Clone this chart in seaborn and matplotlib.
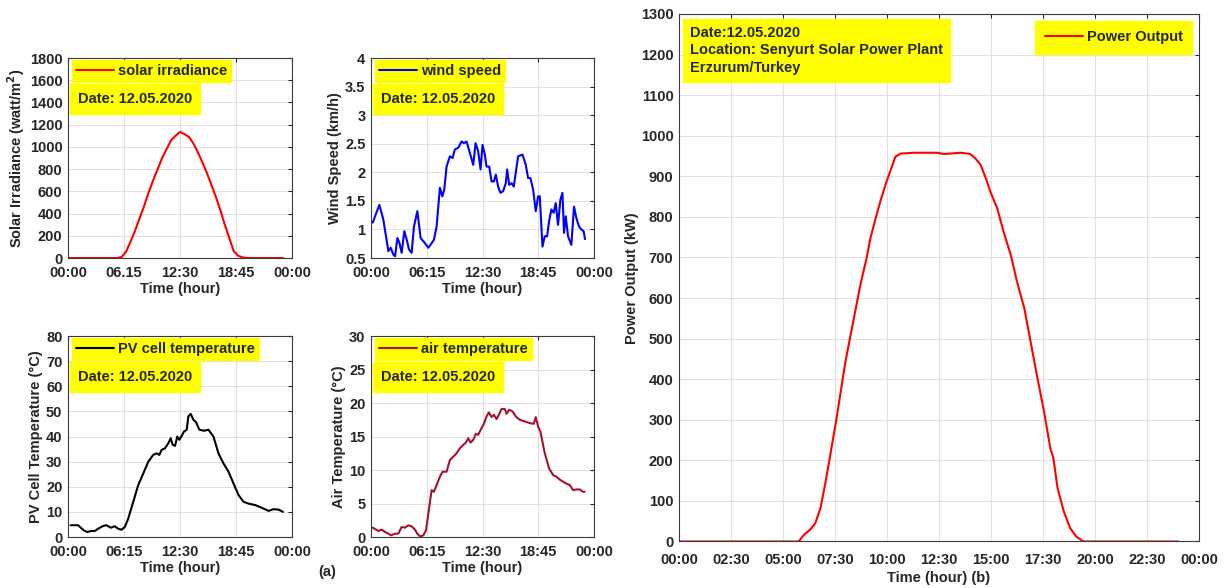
import numpy as np
import pandas as pd
import seaborn as sns
import matplotlib.pyplot as plt

# ---- data ----
irr_hours = np.arange(0, 24.01, 0.5)
irr_values = [0, 0, 0, 0, 0, 0, 0, 0, 0, 0, 0, 0,
              10, 60, 150, 250, 360, 470, 590, 700, 800, 900, 980, 1060,
              1100, 1135, 1115, 1090, 1030, 950, 860, 765, 660, 550, 430, 300,
              180, 60, 20, 5, 0, 0, 0, 0, 0, 0, 0, 0, 0]

wind_hours = [0.19, 0.93, 1.38, 1.94, 2.2, 2.5, 2.69, 2.95, 3.17, 3.43, 3.73, 4.0,
              4.25, 4.55, 4.81, 5.19, 5.56, 6.04, 6.42, 6.79, 7.05, 7.35, 7.72, 7.99,
              8.21, 8.47, 8.84, 9.14, 9.4, 9.78, 10.15, 10.41, 10.71, 11.08, 11.46, 11.72,
              12.01, 12.28, 12.5, 12.76, 12.95, 13.25, 13.51, 13.77, 13.99, 14.25, 14.51, 14.81,
              15.11, 15.26, 15.49, 15.75, 16.0, 16.49, 16.98, 17.35, 17.61, 17.87, 18.17, 18.47,
              18.73, 18.92, 19.22, 19.48, 19.74, 19.96, 20.22, 20.48, 20.71, 20.97, 21.23, 21.46,
              21.64, 21.83, 22.09, 22.46, 22.76, 23.02, 23.32, 23.58, 23.84, 23.99]
wind_values = [1.12, 1.43, 1.17, 0.62, 0.68, 0.56, 0.53, 0.85, 0.77, 0.59, 0.97, 0.82,
               0.65, 0.59, 1.05, 1.32, 0.85, 0.76, 0.68, 0.76, 0.82, 1.05, 1.73, 1.58,
               1.70, 2.10, 2.28, 2.25, 2.40, 2.43, 2.54, 2.51, 2.54, 2.34, 2.13, 2.51,
               2.37, 2.05, 2.48, 2.31, 2.10, 2.10, 1.84, 1.84, 1.96, 1.75, 1.64, 1.67,
               1.81, 2.05, 1.78, 1.81, 1.75, 2.28, 2.31, 2.13, 1.90, 1.90, 1.70, 1.32,
               1.58, 1.58, 0.70, 0.88, 0.88, 1.14, 1.35, 1.29, 1.46, 1.08, 1.52, 1.64,
               0.94, 1.23, 0.88, 0.73, 1.40, 1.20, 1.05, 1.00, 0.97, 0.83]

pv_hours = [0.3, 1.12, 1.75, 2.13, 2.61, 2.99, 3.36, 3.92, 4.29, 4.78, 5.22, 5.6,
            5.97, 6.34, 6.72, 7.28, 7.84, 8.4, 8.96, 9.51, 9.89, 10.19, 10.45, 10.82,
            11.19, 11.46, 11.68, 11.94, 12.2, 12.43, 12.69, 12.95, 13.25, 13.43, 13.69, 13.99,
            14.29, 14.66, 15.19, 15.67, 16.23, 16.79, 17.35, 17.91, 18.47, 19.03, 19.59, 20.15,
            20.9, 21.64, 22.39, 22.95, 23.5, 23.99]
pv_values = [4.7, 4.7, 2.7, 2.0, 2.4, 2.4, 3.3, 4.4, 4.7, 3.7, 4.3, 3.3,
             2.9, 4.0, 7.3, 14.0, 20.7, 25.3, 30.0, 32.7, 33.3, 32.7, 34.7, 35.3,
             37.3, 39.3, 36.7, 36.3, 40.0, 38.7, 40.3, 42.0, 42.7, 48.0, 49.0, 46.7,
             45.7, 42.7, 42.3, 42.7, 40.0, 33.3, 29.3, 26.0, 21.3, 16.7, 14.0, 13.3,
             12.7, 11.6, 10.4, 11.1, 10.9, 10.0]

air_hours = [0.19, 0.82, 1.19, 1.57, 1.94, 2.24, 2.69, 3.06, 3.43, 3.81, 4.18, 4.55,
             4.93, 5.19, 5.49, 5.86, 6.16, 6.53, 6.79, 7.05, 7.35, 7.72, 8.02, 8.47,
             8.84, 9.22, 9.59, 9.96, 10.34, 10.63, 10.9, 11.16, 11.46, 11.75, 12.01, 12.39,
             12.65, 12.95, 13.21, 13.51, 13.77, 14.07, 14.33, 14.63, 15.0, 15.19, 15.49, 15.86,
             16.23, 16.68, 17.24, 17.8, 18.25, 18.47, 18.73, 18.99, 19.48, 19.96, 20.41, 20.78,
             21.23, 21.72, 22.28, 22.65, 23.02, 23.4, 23.77, 23.95]
air_values = [1.4, 0.9, 1.1, 0.75, 0.5, 0.25, 0.5, 0.5, 1.5, 1.4, 1.75, 1.6,
              1.1, 0.5, 0.1, 0.25, 1.0, 4.5, 7.0, 6.75, 7.75, 9.0, 9.75, 9.75,
              11.5, 12.0, 12.5, 13.25, 13.75, 14.1, 14.75, 14.1, 14.5, 15.4, 15.25, 16.25,
              16.9, 18.0, 18.6, 17.9, 18.25, 17.6, 18.25, 19.1, 19.1, 18.4, 19.0, 18.75,
              18.0, 17.5, 17.25, 17.0, 16.9, 17.9, 16.5, 15.75, 12.5, 10.25, 9.25, 9.0,
              8.5, 8.1, 7.75, 7.0, 7.1, 7.1, 6.75, 6.75]

power_hours = [0, 1, 2, 3, 4, 5, 5.75, 6.0, 6.3, 6.55, 6.8,
               7.05, 7.3, 7.55, 7.8, 8.0, 8.25, 8.5, 8.75, 9.0, 9.2,
               9.45, 9.7, 9.95, 10.2, 10.4, 10.65, 11.3, 12.4, 12.75, 13.55,
               14.0, 14.25, 14.5, 14.75, 15.0, 15.3, 15.6, 15.95, 16.25, 16.6,
               16.9, 17.2, 17.55, 17.85, 18.0, 18.2, 18.5, 18.8, 19.1, 19.45,
               20, 21, 22, 23, 24]
power_values = [0, 0, 0, 0, 0, 0, 0, 16, 29, 45, 82,
                148, 222, 296, 378, 443, 509, 575, 640, 694, 747,
                796, 842, 883, 919, 948, 956, 958, 958, 955, 958,
                955, 944, 928, 895, 858, 821, 764, 706, 640, 575,
                493, 411, 320, 230, 205, 131, 74, 33, 12, 0,
                0, 0, 0, 0, 0]

small_ticks = [0, 6.25, 12.5, 18.75, 25]
small_labels = ["00:00", "06:15", "12:30", "18:45", "00:00"]
big_ticks = np.arange(0, 25.1, 2.5)
big_labels = ["00:00", "02:30", "05:00", "07:30", "10:00", "12:30",
              "15:00", "17:30", "20:00", "22:30", "00:00"]
date_text = "Date: 12.05.2020"

# ---- style ----
sns.set_style("whitegrid")
plt.rcParams['font.family'] = ['Liberation Sans', 'DejaVu Sans']
plt.rcParams['font.weight'] = 'bold'
plt.rcParams['axes.labelweight'] = 'bold'
plt.rcParams['grid.color'] = '#e0e0e0'
plt.rcParams['grid.linewidth'] = 0.7
plt.rcParams['xtick.color'] = '#262626'
plt.rcParams['ytick.color'] = '#262626'

YELLOW = '#ffff00'

fig = plt.figure(figsize=(12.25, 5.88), dpi=100)


def style_axes(ax, fs):
    ax.tick_params(direction='in', length=3, width=0.8, top=True, right=True,
                   labelsize=fs)
    ax.tick_params(axis='x', pad=6)
    ax.tick_params(axis='y', pad=4)
    for sp in ax.spines.values():
        sp.set_linewidth(0.8)
        sp.set_color('#3a3a3a')
    ax.grid(True)


def yellow_legend(ax, **kw):
    leg = ax.legend(fontsize=10.5, frameon=True, fancybox=False, facecolor=YELLOW,
                    edgecolor=YELLOW, framealpha=1, handlelength=2.6,
                    handletextpad=0.3, **kw)
    for t in leg.get_texts():
        t.set_fontweight('bold')
    return leg


def small_panel(rect, x, y, color, name, ylabel, ylim, yticks, ylabels, xlabels):
    ax = fig.add_axes(rect)
    df = pd.DataFrame({'t': x, 'v': y})
    sns.lineplot(data=df, x='t', y='v', ax=ax, color=color, lw=1.5, label=name)
    ax.set_xlim(0, 25)
    ax.set_ylim(*ylim)
    ax.set_xticks(small_ticks)
    ax.set_xticklabels(xlabels)
    ax.set_yticks(yticks)
    ax.set_yticklabels(ylabels)
    ax.set_xlabel("Time (hour)", fontsize=10.5, labelpad=1)
    ax.set_ylabel(ylabel, fontsize=10.5, labelpad=2)
    style_axes(ax, 10.5)
    yellow_legend(ax, loc='upper left', bbox_to_anchor=(0.01, 1.0),
                  borderpad=0.25, borderaxespad=0.15)
    ax.text(0.045, 0.795, date_text, transform=ax.transAxes, fontsize=10.5,
            fontweight='bold', va='center', ha='left',
            bbox=dict(boxstyle='square,pad=0.55', fc=YELLOW, ec=YELLOW))
    return ax


irr_ticks = np.arange(0, 1801, 200)
small_panel([0.0555, 0.5612, 0.1829, 0.3401], irr_hours, irr_values, '#ff0000',
            'solar irradiance', 'Solar Irradiance (watt/m$^\\mathbf{2}$)',
            (0, 1800), irr_ticks, [str(v) for v in irr_ticks],
            ["00:00", "06.15", "12:30", "18:45", "00:00"])
wind_ticks = [0.5, 1, 1.5, 2, 2.5, 3, 3.5, 4]
small_panel([0.3029, 0.5612, 0.1820, 0.3401], wind_hours, wind_values, '#0000ff',
            'wind speed', 'Wind Speed (km/h)',
            (0.5, 4), wind_ticks, ["0.5", "1", "1.5", "2", "2.5", "3", "3.5", "4"],
            small_labels)
pv_ticks = np.arange(0, 81, 10)
small_panel([0.0555, 0.0867, 0.1829, 0.3418], pv_hours, pv_values, '#000000',
            'PV cell temperature', 'PV Cell Temperature (°C)',
            (0, 80), pv_ticks, [str(v) for v in pv_ticks], small_labels)
air_ticks = np.arange(0, 31, 5)
small_panel([0.3029, 0.0867, 0.1820, 0.3418], air_hours, air_values, '#a2142f',
            'air temperature', 'Air Temperature (°C)',
            (0, 30), air_ticks, [str(v) for v in air_ticks], small_labels)

fig.text(0.2595, 0.027, "(a)", fontsize=10.5, fontweight='bold', ha='left', va='center')

# ---- big panel ----
axb = fig.add_axes([0.5543, 0.0791, 0.4245, 0.8971])
dfp = pd.DataFrame({'t': power_hours, 'v': power_values})
sns.lineplot(data=dfp, x='t', y='v', ax=axb, color='#ff0000', lw=1.5, label='Power Output')
axb.set_xlim(0, 25)
axb.set_ylim(0, 1300)
axb.set_xticks(big_ticks)
axb.set_xticklabels(big_labels)
axb.set_yticks(np.arange(0, 1301, 100))
axb.set_xlabel("Time (hour) (b)", fontsize=10.5, labelpad=3)
axb.set_ylabel("Power Output (kW)", fontsize=10.5, labelpad=1)
style_axes(axb, 10.5)
axb.tick_params(axis='x', pad=8)
yellow_legend(axb, loc='upper right', borderpad=0.65, borderaxespad=0.45)
axb.text(0.0215, 0.977, "Date:12.05.2020\nLocation: Senyurt Solar Power Plant\nErzurum/Turkey",
         transform=axb.transAxes, fontsize=10.5, fontweight='bold', va='top', ha='left',
         linespacing=1.3,
         bbox=dict(boxstyle='square,pad=0.5', fc=YELLOW, ec=YELLOW))

fig.savefig("out.png", dpi=100)
